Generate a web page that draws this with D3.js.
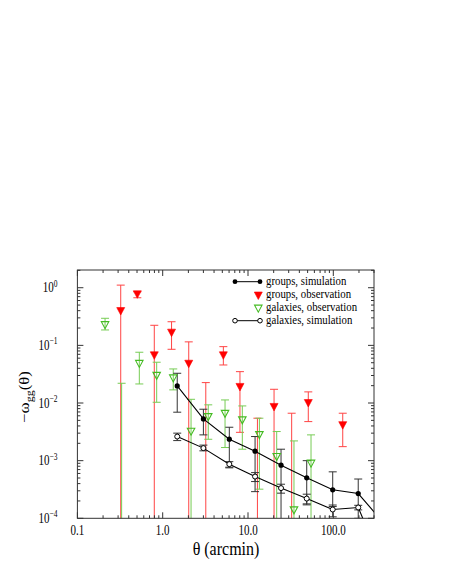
<!DOCTYPE html>
<html>
<head>
<meta charset="utf-8">
<script src="https://cdn.jsdelivr.net/npm/d3@7"></script>
<style>
html,body{margin:0;padding:0;background:#fff;}
</style>
</head>
<body>
<svg id="c" width="452" height="585"></svg>
<script>
// ---- data ----
const xTicks = [0.1, 1, 10, 100];
const xTickLabels = ["0.1", "1.0", "10.0", "100.0"];
const yTicks = [1e-4, 1e-3, 1e-2, 1e-1, 1];
const yTickExp = ["\u22124", "\u22123", "\u22122", "\u22121", "0"];

// groups, simulation
const gsX  = [1.48, 3.0, 6.04, 12.1, 24.4, 48.8, 98.4, 196, 392];
const gsY  = [0.0198, 0.0053, 0.00236, 0.00146, 0.000836, 0.000504, 0.000312, 0.000269, 0.000082];
const gsHi = [0.0328, 0.0078, 0.0038, 0.00262, 0.00158, 0.00100, 0.00064, 0.00048, 0.0002];
const gsLo = [0.00693, 0.0028, 0.00075, 0.00029, 0.00001, 0.000171, 0.00016, 0.00014, 0.00001];

// galaxies, simulation
const vsX  = [1.48, 3.0, 6.04, 12.1, 24.4, 48.8, 98.4, 196, 392];
const vsY  = [0.00262, 0.00165, 0.00087, 0.00053, 0.000334, 0.00022, 0.000142, 0.000154, 0.00001];
const vsHi = [0.00300, 0.00186, 0.00096, 0.00062, 0.00039, 0.000262, 0.00017, 0.000168, 0.00002];
const vsLo = [0.00223, 0.00148, 0.00077, 0.000434, 0.000273, 0.000178, 0.000106, 0.0001, 0.000001];

// groups, observation (values below the axis = negative, marker off-scale)
const goX  = [0.322, 0.504, 0.797, 1.27, 2.02, 3.2, 5.14, 8.05, 12.9, 20.2, 32.5, 50.9, 129];
const goY  = [0.41, 0.80, 0.070, 0.173, 0.050, 0.000001, 0.070, 0.0198, 0.000001, 0.0089, 0.000001, 0.0104, 0.0043];
const goHi = [1.11, 0.85, 0.223, 0.257, 0.115, 0.0226, 0.095, 0.035, 0.00545, 0.0173, 0.00665, 0.0156, 0.00665];
const goLo = [0.000001, 0.67, 0.000001, 0.0855, 0.000001, 0.000001, 0.0457, 0.0031, 0.000001, 0.000001, 0.000001, 0.00476, 0.00175];

// galaxies, observation
const voX  = [0.211, 0.33, 0.532, 0.85, 1.33, 2.15, 3.42, 5.38, 8.58, 13.6, 21.7, 34.6, 54.8];
const voY  = [0.235, 0.000001, 0.050, 0.031, 0.028, 0.00333, 0.00597, 0.0068, 0.00524, 0.00291, 0.00121, 0.000144, 0.00093];
const voHi = [0.295, 0.022, 0.076, 0.051, 0.039, 0.0116, 0.0093, 0.0113, 0.0089, 0.00545, 0.0032, 0.0022, 0.0028];
const voLo = [0.185, 0.000001, 0.0214, 0.0103, 0.0169, 0.000001, 0.00235, 0.00169, 0.00158, 0.00032, 0.000001, 0.000001, 0.000001];

const legendLabels = ["groups, simulation", "groups, observation", "galaxies, observation", "galaxies, simulation"];

// ---- layout ----
const FONT = '"Liberation Serif", "Times New Roman", serif';
const SY = 1.25; // vertical stretch of the original figure's lettering
const L = 77.4, R = 374, T = 270, B = 518.3;
const svg = d3.select("#c");
const x = d3.scaleLog().domain([0.1, 300]).range([L, R]);
const y = d3.scaleLog().domain([1e-4, 2.03]).range([B, T]);

function addText(parent, px, py, size, anchor, transformExtra) {
  return parent.append("text")
    .attr("transform", `translate(${px},${py}) ${transformExtra || `scale(1,${SY})`}`)
    .attr("text-anchor", anchor).attr("fill", "#000")
    .style("font-family", FONT).style("font-size", size + "px");
}

svg.append("defs").append("clipPath").attr("id", "clip").append("rect")
  .attr("x", L).attr("y", T).attr("width", R - L).attr("height", B - T);
const plot = svg.append("g").attr("clip-path", "url(#clip)");

function zip(xs, ys, hi, lo) { return xs.map((v, i) => ({x: v, y: ys[i], hi: hi[i], lo: lo[i]})); }
const gs = zip(gsX, gsY, gsHi, gsLo);
const vs = zip(vsX, vsY, vsHi, vsLo);
const go = zip(goX, goY, goHi, goLo);
const vo = zip(voX, voY, voHi, voLo);

const yc = v => Math.min(y(v), B + 50);

function errorBars(data, color, cap) {
  const g = plot.append("g").attr("stroke", color).attr("stroke-width", 1).attr("fill", "none");
  data.forEach(d => {
    const cx = x(d.x);
    g.append("line").attr("x1", cx).attr("x2", cx).attr("y1", yc(d.hi)).attr("y2", yc(d.lo));
    g.append("line").attr("x1", cx - cap).attr("x2", cx + cap).attr("y1", yc(d.hi)).attr("y2", yc(d.hi));
    g.append("line").attr("x1", cx - cap).attr("x2", cx + cap).attr("y1", yc(d.lo)).attr("y2", yc(d.lo));
  });
}

const triPath = (cx, cy, w, h) => `M${cx - w/2},${cy - h/3}L${cx + w/2},${cy - h/3}L${cx},${cy + 2*h/3}Z`;

// error bars
errorBars(go, "#ff4444", 4);
errorBars(vo, "#77cc55", 4);
errorBars(gs, "#333333", 4);
errorBars(vs, "#333333", 4);

// lines
const line = d3.line().x(d => x(d.x)).y(d => yc(d.y));
plot.append("path").datum(gs).attr("d", line).attr("fill", "none").attr("stroke", "#000").attr("stroke-width", 1.1);
plot.append("path").datum(vs).attr("d", line).attr("fill", "none").attr("stroke", "#000").attr("stroke-width", 1.1);

// markers
plot.selectAll(".go").data(go).enter().append("path")
  .attr("d", d => triPath(x(d.x), y(d.y), 8, 7.5)).attr("fill", "#ff0000").attr("stroke", "#ff0000").attr("stroke-width", 0.6);
plot.selectAll(".vo").data(vo).enter().append("path")
  .attr("d", d => triPath(x(d.x), y(d.y), 7.5, 7)).attr("fill", "none").attr("stroke", "#44bb22").attr("stroke-width", 1.1);
plot.selectAll(".gs").data(gs).enter().append("circle")
  .attr("cx", d => x(d.x)).attr("cy", d => yc(d.y)).attr("r", 2.6).attr("fill", "#000");
plot.selectAll(".vs").data(vs).enter().append("circle")
  .attr("cx", d => x(d.x)).attr("cy", d => yc(d.y)).attr("r", 2.5).attr("fill", "#fff").attr("stroke", "#000").attr("stroke-width", 1);

// ---- axes (ticks inward on all four sides) ----
const minorX = [];
for (let e = -1; e <= 2; e++) for (let k = 1; k <= 9; k++) { const v = k * Math.pow(10, e); if (v >= 0.1 && v <= 300) minorX.push(v); }
const minorY = [];
for (let e = -4; e <= 0; e++) for (let k = 1; k <= 9; k++) { const v = k * Math.pow(10, e); if (v >= 1e-4 && v <= 2.03) minorY.push(v); }
const isMajor = v => Math.abs(Math.log10(v) - Math.round(Math.log10(v))) < 1e-9;

const ax = svg.append("g").attr("stroke", "#333").attr("stroke-width", 1);
minorX.forEach(v => {
  const len = isMajor(v) ? 6 : 3, px = x(v);
  ax.append("line").attr("x1", px).attr("x2", px).attr("y1", B).attr("y2", B - len);
  ax.append("line").attr("x1", px).attr("x2", px).attr("y1", T).attr("y2", T + len);
});
minorY.forEach(v => {
  const len = isMajor(v) ? 6 : 3, py = y(v);
  ax.append("line").attr("x1", L).attr("x2", L + len).attr("y1", py).attr("y2", py);
  ax.append("line").attr("x1", R).attr("x2", R - len).attr("y1", py).attr("y2", py);
});
svg.append("rect").attr("x", L).attr("y", T).attr("width", R - L).attr("height", B - T)
  .attr("fill", "none").attr("stroke", "#333").attr("stroke-width", 1);

// tick labels
xTicks.forEach((v, i) => addText(svg, x(v), 535, 11, "middle").text(xTickLabels[i]));
yTicks.forEach((v, i) => {
  const t = addText(svg, 57.5, y(v) + 4.6, 11, "end");
  t.append("tspan").text("10");
  t.append("tspan").attr("dy", -4.5).style("font-size", "7.5px").text(yTickExp[i]);
});

// axis titles
addText(svg, 226, 555, 16, "middle", "scale(1,1.15)").text("\u03b8 (arcmin)");
const yt = addText(svg, 29, 397, 14, "middle", "rotate(-90) scale(1.2,1)");
yt.append("tspan").text("\u2212\u03c9");
yt.append("tspan").attr("dy", 3.5).style("font-size", "10px").text("gg");
yt.append("tspan").attr("dy", -3.5).text("(\u03b8)");

// legend
const lg = svg.append("g");
const rows = [281.7, 294.5, 307.5, 320.7];
lg.append("line").attr("x1", 235).attr("x2", 260).attr("y1", rows[0]).attr("y2", rows[0]).attr("stroke", "#000");
[235, 260].forEach(px => lg.append("circle").attr("cx", px).attr("cy", rows[0]).attr("r", 2.4).attr("fill", "#000"));
lg.append("path").attr("d", triPath(258.3, rows[1], 8, 7.5)).attr("fill", "#ff0000").attr("stroke", "#ff0000").attr("stroke-width", 0.6);
lg.append("path").attr("d", triPath(258.3, rows[2], 7.5, 7)).attr("fill", "none").attr("stroke", "#44bb22").attr("stroke-width", 1.1);
lg.append("line").attr("x1", 235).attr("x2", 260).attr("y1", rows[3]).attr("y2", rows[3]).attr("stroke", "#000");
[235, 260].forEach(px => lg.append("circle").attr("cx", px).attr("cy", rows[3]).attr("r", 2.3).attr("fill", "#fff").attr("stroke", "#000"));
legendLabels.forEach((s, i) => addText(lg, 266, rows[i] + 3.6, 10.8, "start", "scale(1,1.12)").text(s));
</script>
</body>
</html>
